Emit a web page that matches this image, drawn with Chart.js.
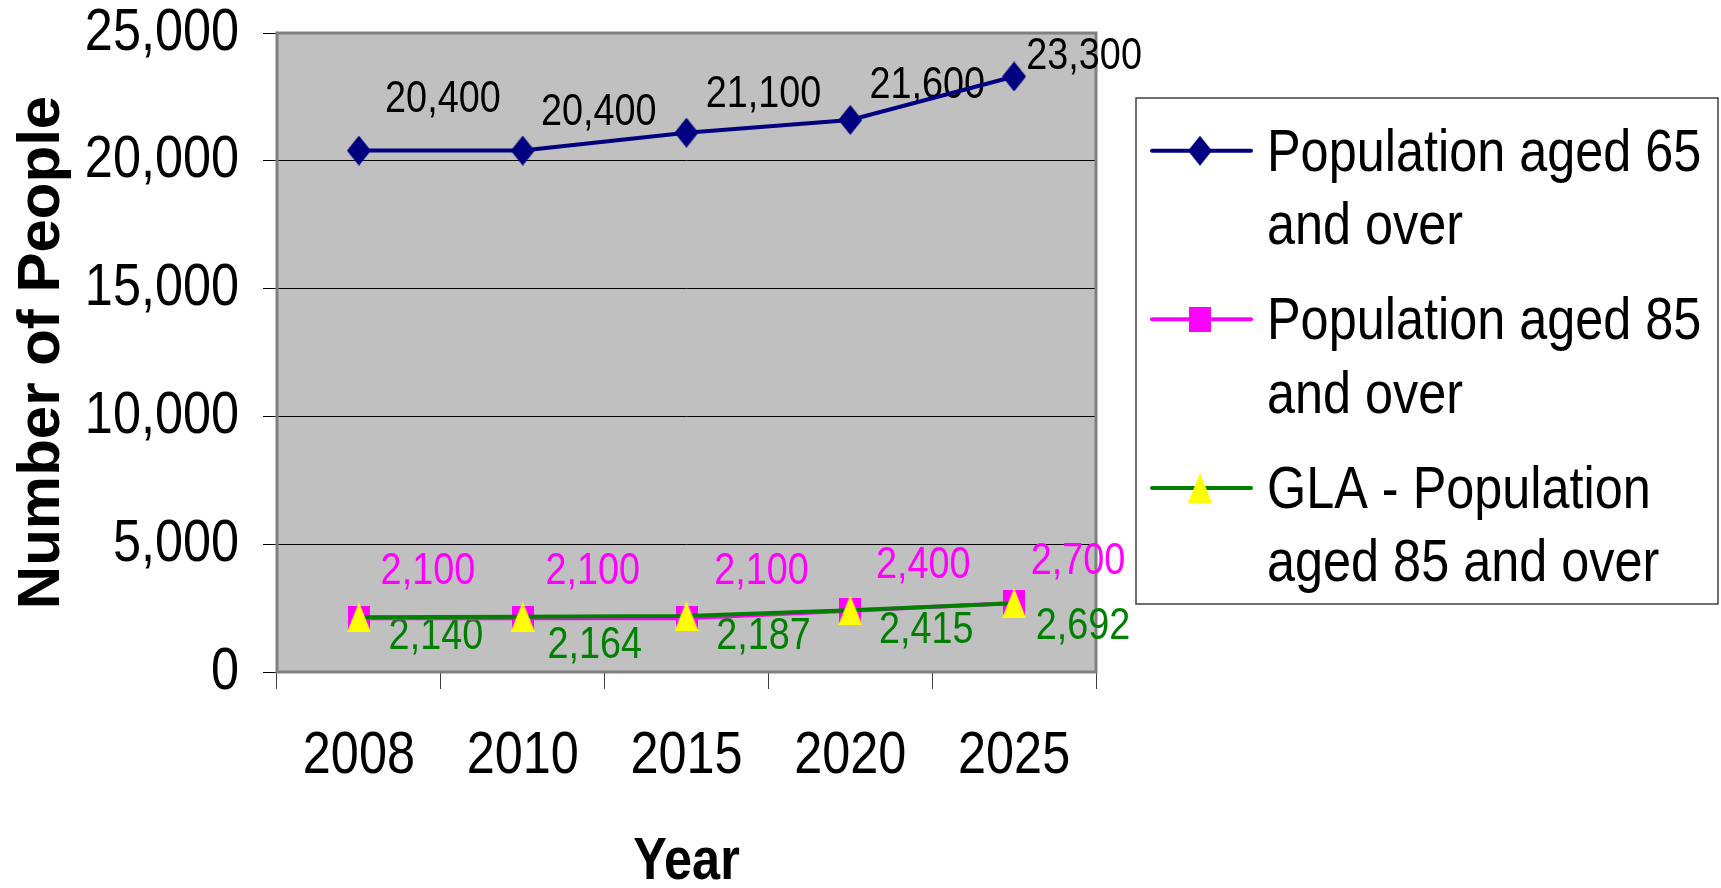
<!DOCTYPE html>
<html><head><meta charset="utf-8">
<script src="https://cdn.jsdelivr.net/npm/chart.js@4.4.1/dist/chart.umd.min.js"></script>
<style>html,body{margin:0;padding:0;background:#fff;}canvas{display:block;}</style>
</head><body>
<canvas id="c" width="1721" height="888"></canvas>
<script>
// ---- data ----
const years = ['2008', '2010', '2015', '2020', '2025'];
const pop65 = [20400, 20400, 21100, 21600, 23300];
const pop85 = [2100, 2100, 2100, 2400, 2700];
const glaPop85 = [2140, 2164, 2187, 2415, 2692];
const seriesNames = ['Population aged 65 and over', 'Population aged 85 and over', 'GLA - Population aged 85 and over'];
const legendLines = [['Population aged 65', 'and over'], ['Population aged 85', 'and over'], ['GLA - Population', 'aged 85 and over']];
const yTicks = [0, 5000, 10000, 15000, 20000, 25000];

// ---- style ----
// "CondSans" is a marker name: text in that font is drawn horizontally condensed (like Arial Narrow).
const NARROW = "CondSans,'Liberation Sans',Arial,sans-serif";
const WIDE = "'Liberation Sans',Arial,sans-serif";
const COND = 0.84;
const labelColors = ['#000000', '#FF00FF', '#008000'];
const labelOffsets = [
  [[84, -51], [76, -38], [77, -38], [77, -34], [70, -20]],
  [[69, -47], [70, -47], [75, -47], [73, -45], [64, -41]],
  [[77, 19], [72, 29], [77, 20], [76, 20], [69, 23]]
];

const canvas = document.getElementById('c');
const c2d = canvas.getContext('2d');
const origFill = c2d.fillText.bind(c2d);
const origMeasure = c2d.measureText.bind(c2d);
c2d.fillText = function (t, x, y, mw) {
  if (c2d.font.indexOf('CondSans') < 0) {
    return mw === undefined ? origFill(t, x, y) : origFill(t, x, y, mw);
  }
  c2d.save();
  c2d.translate(x, y);
  c2d.scale(COND, 1);
  if (mw === undefined) origFill(t, 0, 0); else origFill(t, 0, 0, mw / COND);
  c2d.restore();
};
c2d.measureText = function (t) {
  const m = origMeasure(t);
  if (c2d.font.indexOf('CondSans') < 0) return m;
  return {
    width: m.width * COND,
    actualBoundingBoxAscent: m.actualBoundingBoxAscent,
    actualBoundingBoxDescent: m.actualBoundingBoxDescent,
    actualBoundingBoxLeft: m.actualBoundingBoxLeft * COND,
    actualBoundingBoxRight: m.actualBoundingBoxRight * COND
  };
};

function makeMarker(w, h, color, shape) {
  const c = document.createElement('canvas');
  c.width = w; c.height = h;
  const g = c.getContext('2d');
  g.fillStyle = color;
  g.beginPath();
  if (shape === 'diamond') {
    g.moveTo(w / 2, 0); g.lineTo(w, h / 2); g.lineTo(w / 2, h); g.lineTo(0, h / 2);
  } else if (shape === 'triangle') {
    g.moveTo(w / 2, 0); g.lineTo(w, h); g.lineTo(0, h);
  } else {
    g.rect(0, 0, w, h);
  }
  g.closePath(); g.fill();
  return c;
}
const diamond = makeMarker(24, 30, '#000080', 'diamond');
const square = makeMarker(22, 25, '#FF00FF', 'square');
const triangle = makeMarker(24, 30, '#FFFF00', 'triangle');

const fmt = v => Number(v).toLocaleString('en-US');

const plotFrame = {
  id: 'plotFrame',
  beforeDraw(chart) {
    const { ctx, chartArea: a } = chart;
    ctx.save();
    ctx.fillStyle = '#C0C0C0';
    ctx.fillRect(a.left, a.top, a.right - a.left, a.bottom - a.top);
    ctx.restore();
  },
  beforeDatasetsDraw(chart) {
    const { ctx, chartArea: a } = chart;
    ctx.save();
    ctx.strokeStyle = '#808080';
    ctx.lineWidth = 3;
    ctx.strokeRect(a.left, a.top, a.right - a.left, a.bottom - a.top);
    ctx.font = `45px ${NARROW}`;
    ctx.textAlign = 'center';
    ctx.textBaseline = 'middle';
    chart.data.datasets.forEach((ds, i) => {
      const meta = chart.getDatasetMeta(i);
      ctx.fillStyle = labelColors[i];
      meta.data.forEach((pt, j) => {
        const off = labelOffsets[i][j];
        ctx.fillText(fmt(ds.data[j]), pt.x + off[0], pt.y + off[1]);
      });
    });
    ctx.restore();
  }
};

const boxLegend = {
  id: 'boxLegend',
  afterDraw(chart) {
    const { ctx, chartArea: a } = chart;
    const L = a.right + 40, T = a.top + 65, R = chart.width - 3, B = a.bottom - 68;
    ctx.save();
    ctx.strokeStyle = '#404040';
    ctx.lineWidth = 1.5;
    ctx.strokeRect(L, T, R - L, B - T);
    chart.data.datasets.forEach((ds, i) => {
      const ly = T + 52.7 + i * 168.6;
      ctx.strokeStyle = ds.borderColor;
      ctx.lineWidth = 4;
      ctx.lineCap = 'round';
      ctx.beginPath(); ctx.moveTo(L + 16, ly); ctx.lineTo(L + 115, ly); ctx.stroke();
      const img = ds.pointStyle;
      ctx.drawImage(img, L + 64 - img.width / 2, ly - img.height / 2);
      ctx.fillStyle = '#000';
      ctx.font = `60px ${NARROW}`;
      ctx.textAlign = 'left';
      ctx.textBaseline = 'alphabetic';
      legendLines[i].forEach((t, k) => ctx.fillText(t, L + 131, ly + 20 + k * 73.3));
    });
    ctx.restore();
  }
};

new Chart(canvas, {
  type: 'line',
  data: {
    labels: years,
    datasets: [
      { label: seriesNames[0], data: pop65, borderColor: '#000080', backgroundColor: '#000080', pointStyle: diamond, order: 0 },
      { label: seriesNames[1], data: pop85, borderColor: '#FF00FF', backgroundColor: '#FF00FF', pointStyle: square, order: 2 },
      { label: seriesNames[2], data: glaPop85, borderColor: '#008000', backgroundColor: '#FFFF00', pointStyle: triangle, order: 1 }
    ]
  },
  options: {
    responsive: false,
    devicePixelRatio: 1,
    animation: false,
    events: [],
    elements: {
      line: { borderWidth: 4, tension: 0, fill: false },
      point: { radius: 12, hoverRadius: 12 }
    },
    layout: { padding: { top: 33, right: 625, left: 0, bottom: 0 } },
    plugins: { legend: { display: false }, tooltip: { enabled: false } },
    scales: {
      x: {
        type: 'category',
        offset: true,
        afterFit(s) { s.height = 216; s.paddingLeft = 0; s.paddingRight = 0; },
        border: { display: false },
        grid: { display: true, drawOnChartArea: false, drawTicks: true, tickLength: 17, offset: true, color: '#404040', lineWidth: 1 },
        ticks: { color: '#000', padding: 37, maxRotation: 0, autoSkip: false, font: { family: NARROW, size: 60, lineHeight: 1 } },
        title: { display: true, text: 'Year', color: '#000', font: { family: NARROW, size: 60, weight: 'bold', lineHeight: 0.8 }, padding: { top: 0, bottom: 2 } }
      },
      y: {
        min: 0, max: 25000,
        afterFit(s) { s.width = 277; s.paddingTop = 0; s.paddingBottom = 0; },
        afterBuildTicks(s) { s.ticks = yTicks.map(v => ({ value: v })); },
        border: { display: false },
        grid: { color: '#000', lineWidth: 1, drawTicks: true, tickLength: 14 },
        ticks: { color: '#000', padding: 24, callback: v => fmt(v), font: { family: NARROW, size: 60, lineHeight: 1 } },
        title: { display: true, text: 'Number of People', color: '#000', font: { family: WIDE, size: 60, weight: 'bold', lineHeight: 1 }, padding: { top: 12, bottom: 0 } }
      }
    }
  },
  plugins: [plotFrame, boxLegend]
});
</script>
</body></html>
